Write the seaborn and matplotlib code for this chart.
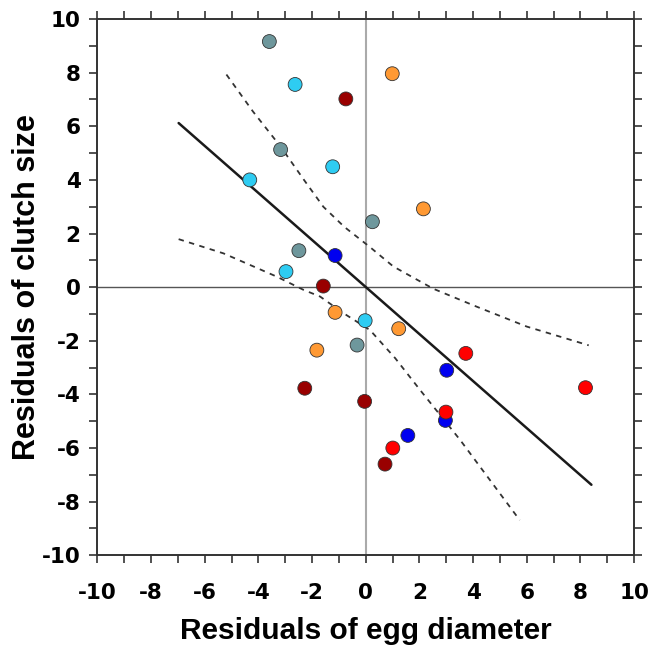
import matplotlib
matplotlib.use("Agg")
import matplotlib.pyplot as plt
import seaborn as sns
import pandas as pd
from matplotlib.ticker import MultipleLocator

# ---- data ----
groups = ["A", "B", "C", "D", "E", "F"]
gray_x = [-3.59, -3.17, -2.49, 0.25, -0.32]
gray_y = [9.16, 5.13, 1.36, 2.44, -2.16]
cyan_x = [-2.63, -1.23, -4.32, -2.97, -0.02]
cyan_y = [7.56, 4.49, 4.00, 0.58, -1.25]
darkred_x = [-0.74, -1.58, -2.27, -0.04, 0.72]
darkred_y = [7.02, 0.04, -3.77, -4.26, -6.60]
orange_x = [0.99, 2.15, -1.14, -1.82, 1.23]
orange_y = [7.96, 2.92, -0.94, -2.35, -1.55]
blue_x = [-1.14, 3.02, 2.97, 1.57]
blue_y = [1.18, -3.10, -4.97, -5.53]
red_x = [3.73, 8.19, 2.99, 1.01]
red_y = [-2.47, -3.75, -4.66, -6.00]

fit_x = [-6.97, 8.41]
fit_y = [6.12, -7.37]
upper_x = [-5.19, -4.2, -3.17, -2.3, -1.58, -0.8, 0.14, 1.03, 2.52, 4.14, 6.00, 8.31]
upper_y = [7.93, 6.55, 5.24, 4.0, 3.00, 2.25, 1.51, 0.77, -0.06, -0.73, -1.47, -2.17]
lower_x = [-6.97, -5.30, -3.31, -2.32, -1.70, -0.83, 0.16, 1.1, 2.03, 3.52, 5.74]
lower_y = [1.79, 1.26, 0.39, -0.10, -0.35, -0.97, -1.60, -2.65, -3.84, -5.70, -8.69]

xticks = [-10, -8, -6, -4, -2, 0, 2, 4, 6, 8, 10]
yticks = [-10, -8, -6, -4, -2, 0, 2, 4, 6, 8, 10]
xlabel = "Residuals of egg diameter"
ylabel = "Residuals of clutch size"

colors = {"A": "#6E979C", "B": "#2ECCF2", "C": "#990000",
          "D": "#FF9933", "E": "#0000F0", "F": "#FF0000"}

xs = [gray_x, cyan_x, darkred_x, orange_x, blue_x, red_x]
ys = [gray_y, cyan_y, darkred_y, orange_y, blue_y, red_y]
rows = []
for g, xx, yy in zip(groups, xs, ys):
    for a, b in zip(xx, yy):
        rows.append({"x": a, "y": b, "g": g})
df = pd.DataFrame(rows)

sns.set_style("white")
plt.rcParams["font.family"] = ["Liberation Sans", "DejaVu Sans"]

fig = plt.figure(figsize=(6.51, 6.49), dpi=100)
ax = fig.add_axes([0.1495, 0.1444, 0.8245, 0.8263])

ax.axhline(0, color="#555555", lw=1.0, zorder=1)
ax.axvline(0, color="#aaaaaa", lw=1.5, zorder=1)

sns.lineplot(x=fit_x, y=fit_y, ax=ax, color="#1a1a1a", lw=1.8,
             estimator=None, sort=False, zorder=2)
sns.lineplot(x=upper_x, y=upper_y, ax=ax, color="#333333", lw=1.3,
             estimator=None, sort=False, zorder=2)
sns.lineplot(x=lower_x, y=lower_y, ax=ax, color="#333333", lw=1.3,
             estimator=None, sort=False, zorder=2)
for l in ax.lines[-2:]:
    l.set_linestyle((0, (3, 3)))

sns.scatterplot(data=df, x="x", y="y", hue="g", palette=colors, ax=ax,
                s=100, edgecolor="#333333", linewidth=0.6, legend=False, zorder=3)

ax.set_xlim(-10, 10)
ax.set_ylim(-10, 10)
ax.xaxis.set_minor_locator(MultipleLocator(1))
ax.yaxis.set_minor_locator(MultipleLocator(1))
ax.set_xticks(xticks)
ax.set_yticks(yticks)
ax.set_xticklabels([str(t) for t in xticks])
ax.set_yticklabels([str(t) for t in yticks])

ax.tick_params(which="both", direction="out", length=6, width=1.2, color="#333333",
               top=True, right=True, bottom=True, left=True,
               labeltop=False, labelright=False)
ax.tick_params(axis="x", which="major", pad=14)
ax.tick_params(axis="y", which="major", pad=6)
for lab in ax.get_xticklabels() + ax.get_yticklabels():
    lab.set_fontweight("bold")
    lab.set_fontfamily(["DejaVu Sans"])
    lab.set_fontsize(15.5)
    lab.set_color("black")
for s in ax.spines.values():
    s.set_color("#333333")
    s.set_linewidth(1.4)

ax.set_xlabel(xlabel, fontsize=21.5, fontweight="bold", labelpad=10, color="black")
ax.set_ylabel(ylabel, fontsize=22, fontweight="bold", labelpad=0, color="black")

fig.savefig("out.png", dpi=100)
